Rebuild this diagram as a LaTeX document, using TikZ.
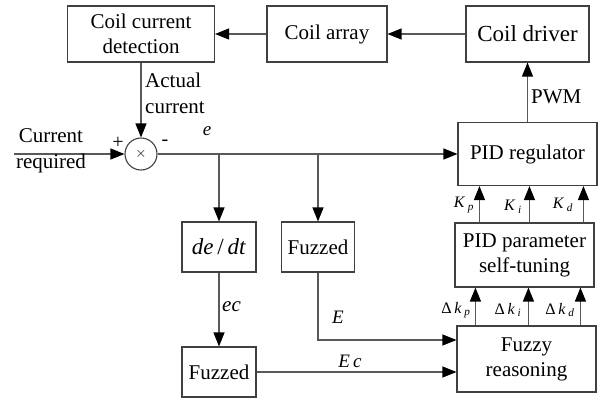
\documentclass[tikz,border=0pt]{standalone}
\usepackage{fontspec}
\setmainfont{LiberationSerif}[Extension=.ttf,UprightFont=*-Regular,ItalicFont=*-Italic,BoldFont=*-Bold,BoldItalicFont=*-BoldItalic]
\usetikzlibrary{arrows.meta,calc}
\begin{document}
\begin{tikzpicture}[x=1pt,y=-1pt,
  blk/.style={draw=black!75,line width=1.1pt,fill=white,inner sep=1pt,align=center,
     font=\fontsize{21}{25}\selectfont},
  conn/.style={draw=black!65,line width=1.2pt},
  arr/.style={conn,-{Triangle[length=14pt,width=11pt,color=black]}},
  lbl/.style={inner sep=0pt,font=\fontsize{16}{18}\selectfont},
  big/.style={inner sep=0pt,font=\fontsize{21}{26}\selectfont,align=left}]
\useasboundingbox (0,0) rectangle (600,400);
% blocks
\node[blk,minimum width=147pt,minimum height=56pt] (cd) at (141,34) {Coil current\\detection};
\node[blk,minimum width=120pt,minimum height=56pt] (ca) at (327,34) {Coil array};
\node[blk,minimum width=123pt,minimum height=56pt,font=\fontsize{23}{25}\selectfont] (cdr) at (527.5,34) {Coil driver};
\node[blk,minimum width=139pt,minimum height=63pt] (pid) at (527.5,154) {PID regulator};
\node[draw=black!75,line width=1.1pt,circle,minimum size=32pt,inner sep=0pt,font=\fontsize{14}{14}\selectfont] (sum) at (141,154) {$\times$};
\node[blk,minimum width=74pt,minimum height=50pt,font=\fontsize{23}{25}\selectfont] (ddt) at (219,247) {\textit{de}\,/\,\textit{dt}};
\node[blk,minimum width=73pt,minimum height=50pt] (fz1) at (318,247) {Fuzzed};
\node[blk,minimum width=74pt,minimum height=50pt] (fz2) at (219,372) {Fuzzed};
\node[blk,minimum width=139pt,minimum height=64pt] (pst) at (524.5,255) {PID parameter\\self-tuning};
\node[blk,minimum width=139pt,minimum height=66pt] (fr) at (526.5,359) {Fuzzy\\reasoning};
% connectors
\draw[arr] (cdr.west) -- (ca.east);
\draw[arr] (ca.west) -- (cd.east);
\draw[arr] (cd.south) -- (sum.north);
\coordinate (in) at (14,154);
\draw[arr] (in) -- (sum.west);
\draw[arr] (sum.east) -- (pid.west);
\draw[arr] (ddt.north |- sum.east) -- (ddt.north);
\draw[arr] (fz1.north |- sum.east) -- (fz1.north);
\draw[arr] (pid.north) -- (cdr.south);
\draw[arr] (ddt.south) -- (fz2.north);
\coordinate (ecorner) at (318,340);
\draw[arr] (fz1.south) -- (ecorner) -- (fr.west |- ecorner);
\draw[arr] (fz2.east) -- (fr.west |- fz2.east);
\foreach \d in {19,72,124}
  \draw[arr] ([xshift=\d pt]fr.north west) -- ([xshift=\d pt]fr.north west |- pst.south);
\foreach \d in {25,75,129}
  \draw[arr] ([xshift=\d pt]pst.north west) -- ([xshift=\d pt]pst.north west |- pid.south);
% labels
\node[lbl,font=\fontsize{20}{20}\selectfont] at (118,143) {+};
\node[lbl,font=\fontsize{20}{20}\selectfont] at (165,143) {-};
\node[lbl,font=\fontsize{19}{19}\selectfont\itshape] at (207,131) {e};
\node[big,align=center] at (51,151) {Current\\required};
\node[big,anchor=west] at (145,93) {Actual\\current};
\node[big,anchor=west] at (531,97) {PWM};
\node[big,anchor=west,font=\fontsize{21}{24}\selectfont\itshape] at (222,307) {ec};
\node[lbl,font=\fontsize{19}{19}\selectfont\itshape] at (338,317) {E};
\node[lbl,font=\fontsize{19}{19}\selectfont\itshape] at (350,361) {E\,c};
\node[lbl] at (456,310) {Δ\,\textit{k}\,\textsubscript{\textit{p}}};
\node[lbl] at (508,310) {Δ\,\textit{k}\,\textsubscript{\textit{i}}};
\node[lbl] at (560,310) {Δ\,\textit{k}\,\textsubscript{\textit{d}}};
\node[lbl] at (464,205) {\textit{K}\,\textsubscript{\textit{p}}};
\node[lbl] at (513,207) {\textit{K}\,\textsubscript{\textit{i}}};
\node[lbl] at (563,205) {\textit{K}\,\textsubscript{\textit{d}}};
\end{tikzpicture}
\end{document}
